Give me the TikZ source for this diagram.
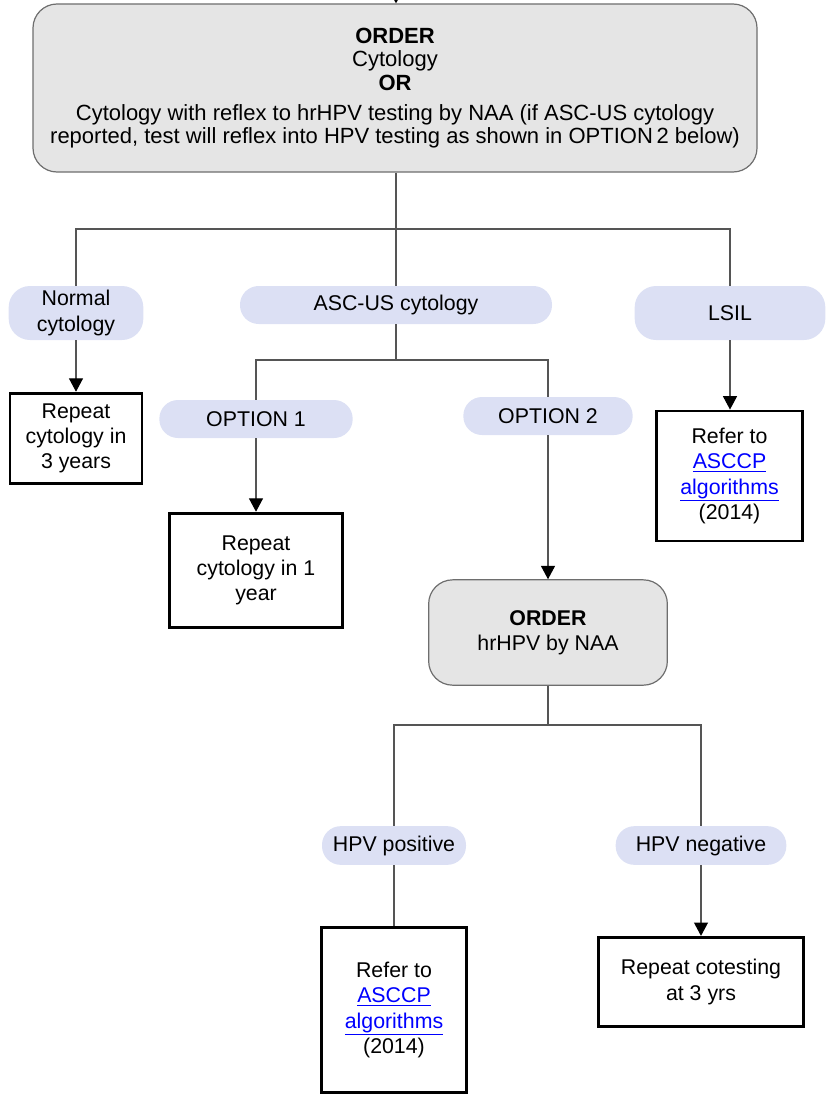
\documentclass[tikz,border=0pt]{standalone}
\usepackage{fontspec}
\setmainfont{Liberation Sans}
\usepackage{xcolor}
\usepackage{tikz}
\usetikzlibrary{arrows.meta,positioning}

\definecolor{ordergray}{RGB}{229,229,229}
\definecolor{ordeedge}{RGB}{110,110,110}
\definecolor{pillblue}{RGB}{220,224,244}
\definecolor{wiregray}{RGB}{85,85,85}
\definecolor{linkblue}{RGB}{0,0,255}
\newcommand{\asccplink}[1]{\textcolor{linkblue}{\underline{#1}}}

\begin{document}
\begin{tikzpicture}[x=0.75pt, y=-0.75pt,
    every node/.style={font=\fontsize{16}{19}\selectfont, align=center, inner sep=0pt},
    orderbox/.style={draw=ordeedge, fill=ordergray, line width=0.9pt, rounded corners=18pt},
    pill/.style={fill=pillblue, rounded corners=14pt},
    endbox/.style={draw=black, fill=white, line width=2.2pt},
    wire/.style={draw=wiregray, line width=0.8pt},
    arrow/.style={wire, -{Triangle[width=10.5pt,length=10pt,color=black]}}]
    \useasboundingbox (0,0) rectangle (833,1099);

    % Top order
    \node[orderbox, minimum width=543pt, minimum height=126pt,
          font=\fontsize{16.5}{17.6}\selectfont] (main) at (395,88) {%
        \textbf{ORDER}\\ Cytology\\ \textbf{OR}\\[5pt]
        Cytology with reflex to hrHPV testing by NAA (if ASC-US cytology\\
        reported, test will reflex into HPV testing as shown in OPTION\,2 below)};
    \coordinate (entry) at (396,-16);
    \draw[arrow] (entry) -- (main.north -| entry);

    % First results
    \node[pill, minimum width=101pt, minimum height=40.5pt, rounded corners=16pt] (normal) at (76,313) {Normal\\ cytology};
    \node[pill, minimum width=234pt, minimum height=28.5pt] (ascus) at (396,305) {ASC-US cytology};
    \node[pill, minimum width=143pt, minimum height=40.5pt, rounded corners=16pt] (lsil) at (730,313) {LSIL};
    \coordinate (bus1) at (396,229);
    \draw[wire] (main.south -| bus1) -- (bus1);
    \draw[wire] (normal.north) |- (bus1) -| (lsil.north);
    \draw[wire] (bus1) -- (ascus.north);

    % Normal and LSIL outcomes
    \node[endbox, minimum width=99pt, minimum height=68pt] (repthree) at (76,438.5) {Repeat\\ cytology in\\ 3 years};
    \node[endbox, minimum width=109pt, minimum height=97.5pt] (referone) at (729.5,476) {Refer to\\ \asccplink{ASCCP}\\ \asccplink{algorithms}\\ (2014)};
    \draw[arrow] (normal.south) -- (repthree.north);
    \draw[arrow] (lsil.south) -- (referone.north -| lsil.south);

    % ASC-US options
    \node[pill, minimum width=145pt, minimum height=28.5pt] (optone) at (256,419) {OPTION 1};
    \node[pill, minimum width=127pt, minimum height=28.5pt] (opttwo) at (548,416) {OPTION 2};
    \coordinate (bus2) at (396,360);
    \draw[wire] (ascus.south) -- (bus2);
    \draw[wire] (optone.north) |- (bus2) -| (opttwo.north);

    \node[endbox, minimum width=130pt, minimum height=86pt] (repone) at (256,570.5) {Repeat\\ cytology in 1\\ year};
    \draw[arrow] (optone.south) -- (repone.north);

    % hrHPV order
    \node[orderbox, minimum width=179pt, minimum height=79pt] (hpvorder) at (548,632.5) {\textbf{ORDER}\\ hrHPV by NAA};
    \draw[arrow] (opttwo.south) -- (hpvorder.north);

    \node[pill, minimum width=108pt, minimum height=29pt] (hpvpos) at (394,845.5) {HPV positive};
    \node[pill, minimum width=128pt, minimum height=29pt] (hpvneg) at (701,845.5) {HPV negative};
    \coordinate (bus3) at (548,725);
    \draw[wire] (hpvorder.south) -- (bus3);
    \draw[wire] (hpvpos.north) |- (bus3) -| (hpvneg.north);

    % HPV outcomes
    \node[endbox, minimum width=109pt, minimum height=124pt] (refertwo) at (394,1010) {Refer to\\ \asccplink{ASCCP}\\ \asccplink{algorithms}\\ (2014)};
    \node[endbox, minimum width=154pt, minimum height=67pt] (cotest) at (701,982) {Repeat cotesting\\ at 3 yrs};
    \draw[wire] (hpvpos.south) -- (refertwo.north);
    \draw[arrow] (hpvneg.south) -- (cotest.north);
\end{tikzpicture}
\end{document}
